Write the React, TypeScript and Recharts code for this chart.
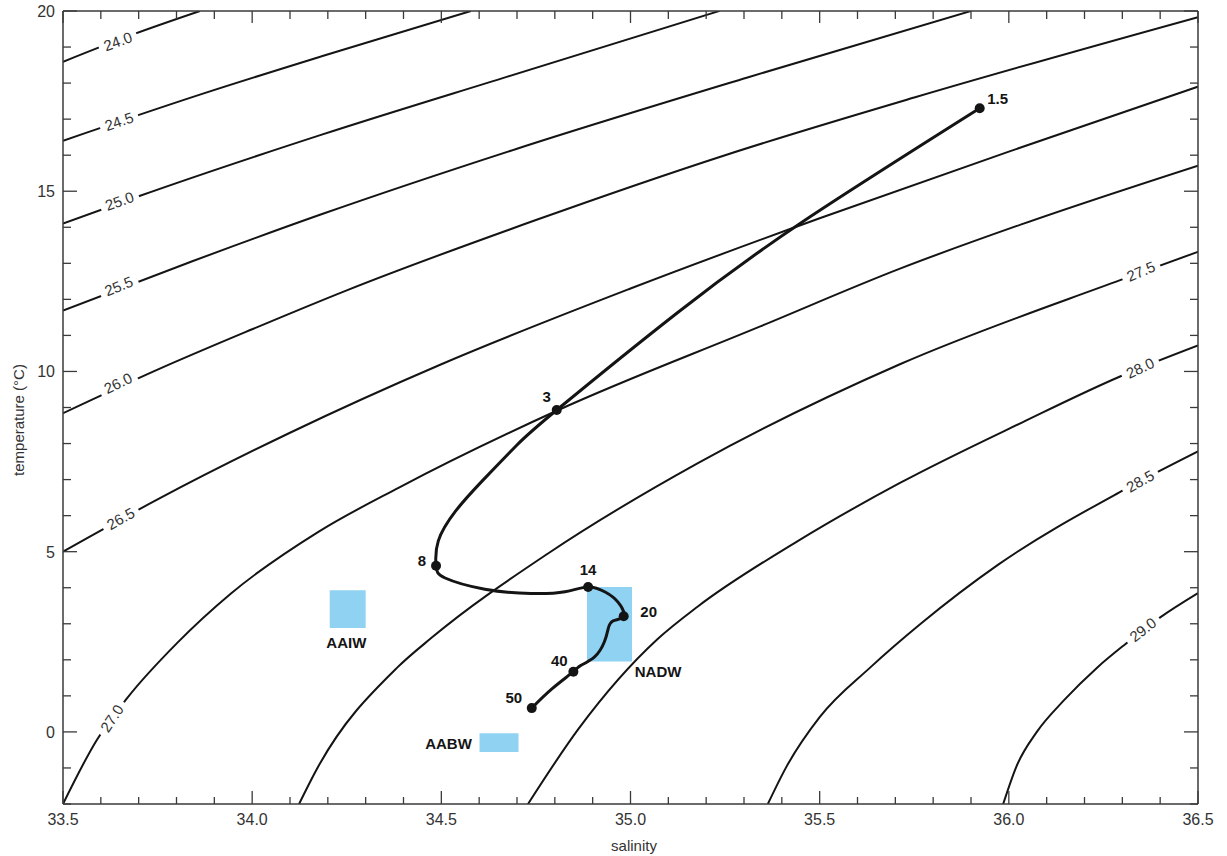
import React from 'react';
import { ComposedChart, Line, Scatter, XAxis, YAxis, ReferenceArea } from 'recharts';

type Pt = [number, number]; // [salinity, temperature °C]

// sigma-t isopycnals
const sigma24_0: Pt[] = [[33.5, 18.59], [33.685, 19.35], [33.862, 20]];
const sigma24_5: Pt[] = [[33.5, 16.4], [33.868, 17.7], [34.186, 18.75], [34.578, 20]];
const sigma25_0: Pt[] = [[33.5, 14.1], [33.7, 14.86], [34.184, 16.57], [34.675, 18.18], [35.235, 20]];
const sigma25_5: Pt[] = [[33.5, 11.69], [33.84, 13.05], [34.183, 14.36], [34.7, 16.18], [35.307, 18.15], [35.9, 20]];
const sigma26_0: Pt[] = [[33.5, 8.84], [33.75, 10.05], [34.0, 11.17], [34.25, 12.25], [34.75, 14.2], [35.25, 16.0], [35.75, 17.6], [36.5, 19.83]];
const sigma26_5: Pt[] = [[33.5, 5.0], [33.75, 6.45], [34.1, 8.3], [34.5, 10.2], [35.0, 12.3], [35.5, 14.25], [36.0, 16.1], [36.5, 17.9]];
const sigma27_0: Pt[] = [[33.5, -2], [33.589, -0.23], [33.669, 0.93], [33.802, 2.47], [33.944, 3.84], [34.175, 5.55], [34.388, 6.78], [34.805, 8.91], [35.343, 11.25], [35.714, 12.86], [36.033, 14.08], [36.5, 15.71]];
const sigma27_5: Pt[] = [[34.124, -2], [34.17, -1.05], [34.384, 1.79], [34.474, 2.61], [34.782, 4.95], [35.177, 7.45], [35.712, 10.2], [36.296, 12.54], [36.5, 13.32]];
const sigma28_0: Pt[] = [[34.729, -2], [34.863, 0.09], [35.071, 2.57], [35.178, 3.48], [35.443, 5.3], [35.711, 6.9], [36.036, 8.59], [36.294, 9.86], [36.5, 10.72]];
const sigma28_5: Pt[] = [[35.363, -2], [35.412, -0.97], [35.5, 0.41], [35.634, 1.79], [35.767, 3.0], [35.972, 4.64], [36.291, 6.64], [36.5, 7.78]];
const sigma29_0: Pt[] = [[35.985, -2], [36.02, -0.96], [36.074, 0.0], [36.146, 0.88], [36.234, 1.79], [36.306, 2.42], [36.402, 3.19], [36.5, 3.85]];

const isopycnals = [sigma24_0, sigma24_5, sigma25_0, sigma25_5, sigma26_0, sigma26_5, sigma27_0, sigma27_5, sigma28_0, sigma28_5, sigma29_0];

// where each isopycnal carries its label
const contourLabels = [
  { text: '24.0', s: 33.645, t: 19.16 },
  { text: '24.5', s: 33.648, t: 16.94 },
  { text: '25.0', s: 33.649, t: 14.73 },
  { text: '25.5', s: 33.647, t: 12.37 },
  { text: '26.0', s: 33.645, t: 9.68 },
  { text: '26.5', s: 33.652, t: 5.92 },
  { text: '27.0', s: 33.629, t: 0.38 },
  { text: '27.5', s: 36.349, t: 12.78 },
  { text: '28.0', s: 36.347, t: 10.1 },
  { text: '28.5', s: 36.347, t: 6.96 },
  { text: '29.0', s: 36.354, t: 2.84 },
];

// T-S profile of the station, surface to bottom
const tsProfile: Pt[] = [
  [35.923, 17.3], [35.459, 14.18], [35.124, 11.63], [34.805, 8.93], [34.698, 7.94], [34.607, 6.95],
  [34.538, 6.13], [34.492, 5.3], [34.486, 4.61], [34.51, 4.27], [34.615, 3.96], [34.737, 3.84],
  [34.827, 3.89], [34.888, 4.02], [34.933, 3.88], [34.967, 3.6], [34.982, 3.21], [34.954, 3.08],
  [34.941, 2.86], [34.931, 2.5], [34.905, 2.08], [34.868, 1.84], [34.849, 1.67], [34.793, 1.2],
  [34.739, 0.66],
];

// labelled depths (hundreds of metres) on the profile
const stations = [
  { name: '1.5', s: 35.923, t: 17.3 },
  { name: '3', s: 34.805, t: 8.93 },
  { name: '8', s: 34.486, t: 4.61 },
  { name: '14', s: 34.888, t: 4.02 },
  { name: '20', s: 34.982, t: 3.21 },
  { name: '40', s: 34.849, t: 1.67 },
  { name: '50', s: 34.739, t: 0.66 },
];

// water mass boxes
const waterMasses = [
  { name: 'AAIW', s1: 34.205, s2: 34.3, t1: 2.88, t2: 3.93, labelS: 34.249, labelT: 2.49 },
  { name: 'NADW', s1: 34.885, s2: 35.004, t1: 1.95, t2: 4.02, labelS: 35.073, labelT: 1.68 },
  { name: 'AABW', s1: 34.601, s2: 34.704, t1: -0.56, t2: -0.04, labelS: 34.519, labelT: -0.32 },
];

const salinityTicks = [33.5, 33.6, 33.7, 33.8, 33.9, 34.0, 34.1, 34.2, 34.3, 34.4, 34.5, 34.6, 34.7, 34.8, 34.9, 35.0, 35.1, 35.2, 35.3, 35.4, 35.5, 35.6, 35.7, 35.8, 35.9, 36.0, 36.1, 36.2, 36.3, 36.4, 36.5];
const salinityLabels = [33.5, 34.0, 34.5, 35.0, 35.5, 36.0, 36.5];
const tempTicks = [-2, -1, 0, 1, 2, 3, 4, 5, 6, 7, 8, 9, 10, 11, 12, 13, 14, 15, 16, 17, 18, 19, 20];
const tempLabels = [0, 5, 10, 15, 20];

const labelAngle: { [k: string]: number } = {
  '24.0': -20, '24.5': -19, '25.0': -20, '25.5': -22, '26.0': -26, '26.5': -29,
  '27.0': -56, '27.5': -23, '28.0': -25, '28.5': -29, '29.0': -38,
};
const stationOffset: { [k: string]: [number, number] } = {
  '1.5': [18, -10], '3': [-10, -14], '8': [-14, -5], '14': [0, -18], '20': [25, -5], '40': [-14, -11], '50': [-18, -11],
};

const FONT = "'Liberation Sans', Arial, Helvetica, sans-serif";
const INK = '#141414';
const AXIS = '#3a3a3a';

const toRows = (pts: Pt[]) => pts.map(([s, t]) => ({ s, t }));

const BottomTick = ({ x, y, payload }: any) => {
  const major = salinityLabels.includes(payload.value);
  return (
    <g>
      <line x1={x} y1={y} x2={x} y2={y - (major ? 13 : 7)} stroke={AXIS} strokeWidth={1.3} />
      {major && (
        <text x={x} y={y + 21} textAnchor="middle" fontFamily={FONT} fontSize={16} fill="#333">
          {payload.value.toFixed(1)}
        </text>
      )}
    </g>
  );
};

const TopTick = ({ x, y, payload }: any) => {
  const major = salinityLabels.includes(payload.value);
  return <line x1={x} y1={y} x2={x} y2={y + (major ? 12 : 8)} stroke={AXIS} strokeWidth={1.3} />;
};

const LeftTick = ({ x, y, payload }: any) => {
  const major = tempLabels.includes(payload.value);
  return (
    <g>
      <line x1={x} y1={y} x2={x + (major ? 14 : 8)} y2={y} stroke={AXIS} strokeWidth={1.3} />
      {major && (
        <text x={x - 8} y={y + 6} textAnchor="end" fontFamily={FONT} fontSize={16} fill="#333">
          {payload.value}
        </text>
      )}
    </g>
  );
};

const RightTick = ({ x, y, payload }: any) => {
  const major = tempLabels.includes(payload.value);
  return <line x1={x} y1={y} x2={x - (major ? 14 : 8)} y2={y} stroke={AXIS} strokeWidth={1.3} />;
};

const ContourLabel = (props: any) => {
  const { cx, cy, payload } = props;
  return (
    <g transform={`translate(${cx},${cy}) rotate(${labelAngle[payload.text] ?? 0})`}>
      <rect x={-20} y={-8} width={40} height={16} fill="#fff" />
      <text x={0} y={5.5} textAnchor="middle" fontFamily={FONT} fontSize={15} fill="#333">
        {payload.text}
      </text>
    </g>
  );
};

const StationDot = (props: any) => {
  const { cx, cy, payload } = props;
  const [dx, dy] = stationOffset[payload.name] ?? [0, -14];
  return (
    <g>
      <circle cx={cx} cy={cy} r={5} fill={INK} />
      <text x={cx + dx} y={cy + dy + 5.5} textAnchor="middle" fontFamily={FONT} fontSize={15} fontWeight="bold" fill={INK}>
        {payload.name}
      </text>
    </g>
  );
};

const MassLabel = (props: any) => {
  const { cx, cy, payload } = props;
  return (
    <text x={cx} y={cy + 5.5} textAnchor="middle" fontFamily={FONT} fontSize={15} fontWeight="bold" fill={INK}>
      {payload.name}
    </text>
  );
};

export default function App() {
  const massLabelRows = waterMasses.map((m) => ({ name: m.name, s: m.labelS, t: m.labelT }));

  return (
    <div style={{ position: 'absolute', left: 0, top: 0, width: 1227, height: 856, background: '#fff' }}>
      <ComposedChart width={1227} height={856} margin={{ top: 10, right: 28, bottom: 51, left: 62 }}>
        <XAxis
          xAxisId={0}
          type="number"
          dataKey="s"
          domain={[33.5, 36.5]}
          allowDataOverflow
          ticks={salinityTicks}
          interval={0}
          height={1}
          tickSize={0}
          tickMargin={0}
          tickLine={false}
          tick={<BottomTick />}
          axisLine={{ stroke: AXIS, strokeWidth: 1.5 }}
        />
        <XAxis
          xAxisId="top"
          orientation="top"
          type="number"
          dataKey="s"
          domain={[33.5, 36.5]}
          allowDataOverflow
          ticks={salinityTicks}
          interval={0}
          height={1}
          tickSize={0}
          tickMargin={0}
          tickLine={false}
          tick={<TopTick />}
          axisLine={{ stroke: AXIS, strokeWidth: 1.5 }}
        />
        <YAxis
          yAxisId={0}
          type="number"
          domain={[-2, 20]}
          allowDataOverflow
          ticks={tempTicks}
          interval={0}
          width={1}
          tickSize={0}
          tickMargin={0}
          tickLine={false}
          tick={<LeftTick />}
          axisLine={{ stroke: AXIS, strokeWidth: 1.5 }}
        />
        <YAxis
          yAxisId="right"
          orientation="right"
          type="number"
          domain={[-2, 20]}
          allowDataOverflow
          ticks={tempTicks}
          interval={0}
          width={1}
          tickSize={0}
          tickMargin={0}
          tickLine={false}
          tick={<RightTick />}
          axisLine={{ stroke: AXIS, strokeWidth: 1.5 }}
        />

        {waterMasses.map((m) => (
          <ReferenceArea
            key={m.name}
            x1={m.s1}
            x2={m.s2}
            y1={m.t1}
            y2={m.t2}
            fill="#8fd2f2"
            fillOpacity={1}
            stroke="none"
          />
        ))}

        {isopycnals.map((pts, i) => (
          <Line
            key={`iso-${i}`}
            data={toRows(pts)}
            dataKey="t"
            type="monotone"
            stroke={INK}
            strokeWidth={2}
            dot={false}
            activeDot={false}
            isAnimationActive={false}
          />
        ))}

        <Scatter data={contourLabels} dataKey="t" shape={<ContourLabel />} isAnimationActive={false} />

        <Line
          data={toRows(tsProfile)}
          dataKey="t"
          type="natural"
          stroke={INK}
          strokeWidth={3}
          dot={false}
          activeDot={false}
          isAnimationActive={false}
        />

        <Scatter data={stations} dataKey="t" shape={<StationDot />} isAnimationActive={false} />
        <Scatter data={massLabelRows} dataKey="t" shape={<MassLabel />} isAnimationActive={false} />
      </ComposedChart>

      <div
        style={{
          position: 'absolute',
          left: 634,
          top: 845,
          transform: 'translate(-50%, -50%)',
          fontFamily: FONT,
          fontSize: 15,
          color: '#333',
          whiteSpace: 'nowrap',
        }}
      >
        salinity
      </div>
      <div
        style={{
          position: 'absolute',
          left: 18,
          top: 420,
          transform: 'translate(-50%, -50%) rotate(-90deg)',
          fontFamily: FONT,
          fontSize: 15,
          color: '#333',
          whiteSpace: 'nowrap',
        }}
      >
        temperature (°C)
      </div>
    </div>
  );
}
